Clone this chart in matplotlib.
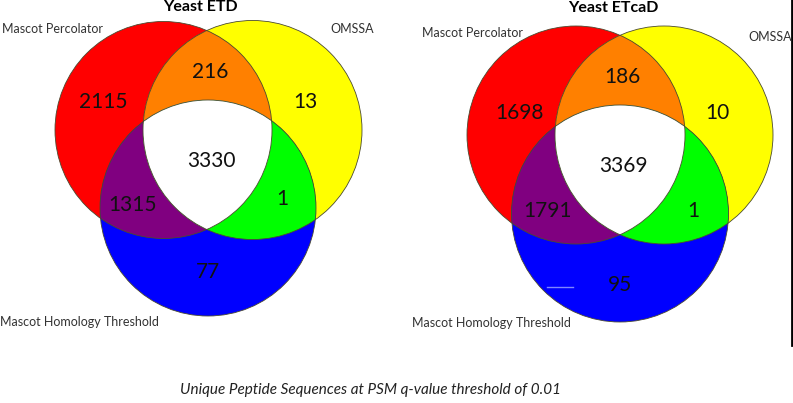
import numpy as np
import matplotlib
matplotlib.use("Agg")
import matplotlib.pyplot as plt
from matplotlib.patches import Circle, Polygon

plt.rcParams['font.family'] = ['Lato', 'DejaVu Sans']

# set names and panel titles
set_names = ["Mascot Percolator", "OMSSA", "Mascot Homology Threshold"]
titles = ["Yeast ETD", "Yeast ETcaD"]
caption = "Unique Peptide Sequences at PSM q-value threshold of 0.01"

# region counts: only A, only B, only C, A&B, A&C, B&C, A&B&C
etd_counts = [2115, 13, 77, 216, 1315, 1, 3330]
etcad_counts = [1698, 10, 95, 186, 1791, 1, 3369]

# region colours in the same order
region_colors = ['#ff0000', '#ffff00', '#0000ff', '#ff8000', '#800080', '#00ff00', '#ffffff']


def inside(pts, c, r, tol=1e-6):
    return np.hypot(pts[:, 0] - c[0], pts[:, 1] - c[1]) <= r + tol


def intersection_poly(circles):
    """Polygon of the (convex) intersection of several circles."""
    t = np.linspace(0, 2 * np.pi, 1440, endpoint=False)
    keep = []
    for i, (c, r) in enumerate(circles):
        pts = np.column_stack([c[0] + r * np.cos(t), c[1] + r * np.sin(t)])
        mask = np.ones(len(pts), bool)
        for j, (c2, r2) in enumerate(circles):
            if j != i:
                mask &= inside(pts, c2, r2, tol=0.01)
        keep.append(pts[mask])
    pts = np.vstack(keep)
    ctr = pts.mean(axis=0)
    order = np.argsort(np.arctan2(pts[:, 1] - ctr[1], pts[:, 0] - ctr[0]))
    return pts[order]


def draw_venn(ax, circles, counts, text_pos, label_pos, title, title_pos):
    a, b, c = circles
    for (cen, r), col in zip(circles, region_colors[:3]):
        ax.add_patch(Circle(cen, r, facecolor=col, edgecolor='none'))
    for pair, col in zip([(a, b), (a, c), (b, c)], region_colors[3:6]):
        ax.add_patch(Polygon(intersection_poly(list(pair)), closed=True,
                             facecolor=col, edgecolor='none'))
    ax.add_patch(Polygon(intersection_poly([a, b, c]), closed=True,
                         facecolor=region_colors[6], edgecolor='none'))
    for cen, r in circles:
        ax.add_patch(Circle(cen, r, facecolor='none', edgecolor='#4a4a30', lw=0.6))

    for n, (x, y) in zip(counts, text_pos):
        ax.text(x, y, str(n), fontsize=15, ha='center', va='center', color='#111111')
    for name, (x, y) in zip(set_names, label_pos):
        ax.text(x, y, name, fontsize=9, ha='left', va='center', color='#333333')
    ax.text(title_pos[0], title_pos[1], title, fontsize=11.5, fontweight='bold',
            ha='center', va='center', color='black')


fig = plt.figure(figsize=(7.93, 4.03), dpi=100)
ax = fig.add_axes([0, 0, 1, 1])
ax.set_xlim(0, 793)
ax.set_ylim(403, 0)
ax.set_aspect('equal')
ax.axis('off')

# left diagram (ETD)
draw_venn(ax,
          [((163.5, 130), 108.5), ((252.5, 130), 109.5), ((208, 208), 108)],
          etd_counts,
          [(103, 102), (305, 102), (208, 272), (210, 72), (133, 205), (282, 199), (211, 161)],
          [(2, 29), (330, 29), (0, 322)],
          titles[0], (200, 7))

# right diagram (ETcaD)
draw_venn(ax,
          [((576, 135), 109), ((664, 135), 109), ((620, 213.5), 108.5)],
          etcad_counts,
          [(519, 113), (717, 113), (620, 285), (622, 77), (548, 211), (693, 211), (623, 166)],
          [(422, 33), (748, 37), (412, 323)],
          titles[1], (613, 8))

# small artefacts in the original image
ax.plot([547, 573], [287, 287], color='#7f86ff', lw=1)
ax.plot([791.5, 791.5], [0, 345], color='black', lw=2)

ax.text(370, 390, caption, fontsize=11, style='italic', ha='center', va='center',
        color='#222222')

fig.savefig('out.png', dpi=100)
